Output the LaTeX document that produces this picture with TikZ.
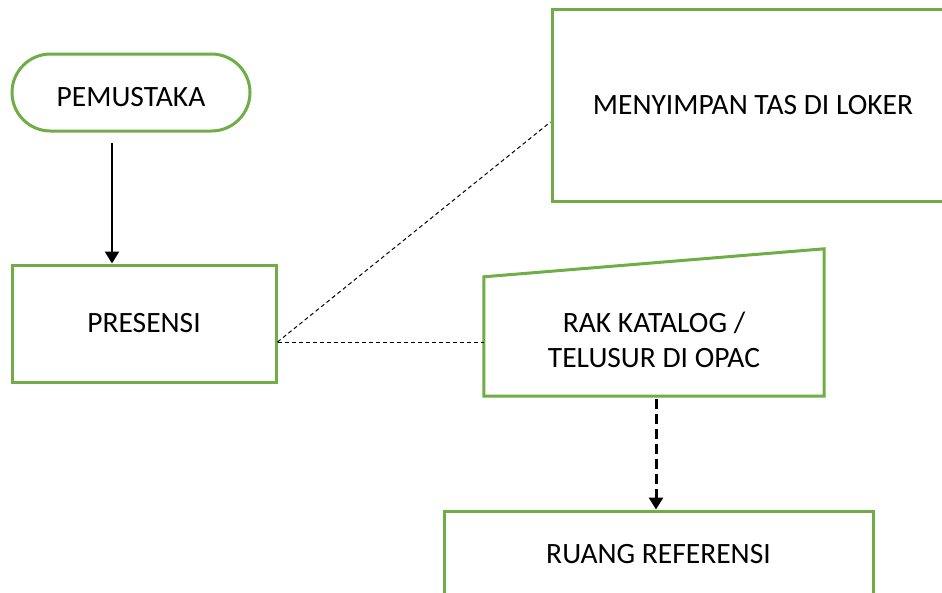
\documentclass[tikz,border=0pt]{standalone}
\usepackage{fontspec}
\setmainfont{Carlito}
\usetikzlibrary{arrows.meta,calc}
\definecolor{boxgreen}{HTML}{70AD47}
\begin{document}
\begin{tikzpicture}[x=1pt,y=-1pt,
  font=\fontsize{29.5}{35}\selectfont,
  stepbox/.style={draw=boxgreen, line width=3pt, rectangle, align=center, inner sep=0pt},
  ghostbox/.style={rectangle, align=center, inner sep=0pt},
  flow/.style={line width=2.5pt, -{Triangle[length=12pt,width=14pt]}},
  optflow/.style={line width=3pt, dash pattern=on 10pt off 5pt, -{Triangle[length=12pt,width=14pt]}},
  link/.style={line width=1pt, dash pattern=on 4pt off 3pt}]
\useasboundingbox (0,0) rectangle (942,592);
\clip (0,0) rectangle (942,592);

% process boxes
\node[stepbox, rounded corners=38.5pt, minimum width=238pt, minimum height=77pt,
      text height=28pt, text depth=0pt] (pem) at (131,92.5) {PEMUSTAKA};
\node[stepbox, minimum width=264pt, minimum height=117pt] (presensi) at (144,323.5) {PRESENSI};
\node[stepbox, minimum width=402pt, minimum height=192pt] (loker) at (753,105) {MENYIMPAN TAS DI LOKER};
\node[stepbox, minimum width=429pt, minimum height=86pt] (ruang) at (658.5,554) {RUANG REFERENSI};

% manual-input step: slanted top edge
\node[ghostbox, minimum width=340pt, minimum height=119pt] (rak) at (654,339.5) {RAK KATALOG /\\TELUSUR DI OPAC};
\draw[draw=boxgreen, line width=3pt, line join=miter]
  ($(rak.south west)+(0,-3)$) -- ($(rak.north west)+(0,-3)$) -- ($(rak.north east)+(0,-31)$)
  -- ($(rak.south east)+(0,-3)$) -- cycle;

% connectors
\draw[flow] ($(pem.south)+(-19,10)$) coordinate (a0) -- (a0 |- presensi.north);
\coordinate (j) at ($(presensi.east)+(0,18.5)$);
\draw[link] (j) -- ($(loker.west)+(0,17)$);
\draw[link] (j) -- (j -| rak.west);
\draw[optflow] ($(rak.south)+(2,0)$) coordinate (b0) -- (b0 |- ruang.north);
\end{tikzpicture}
\end{document}
